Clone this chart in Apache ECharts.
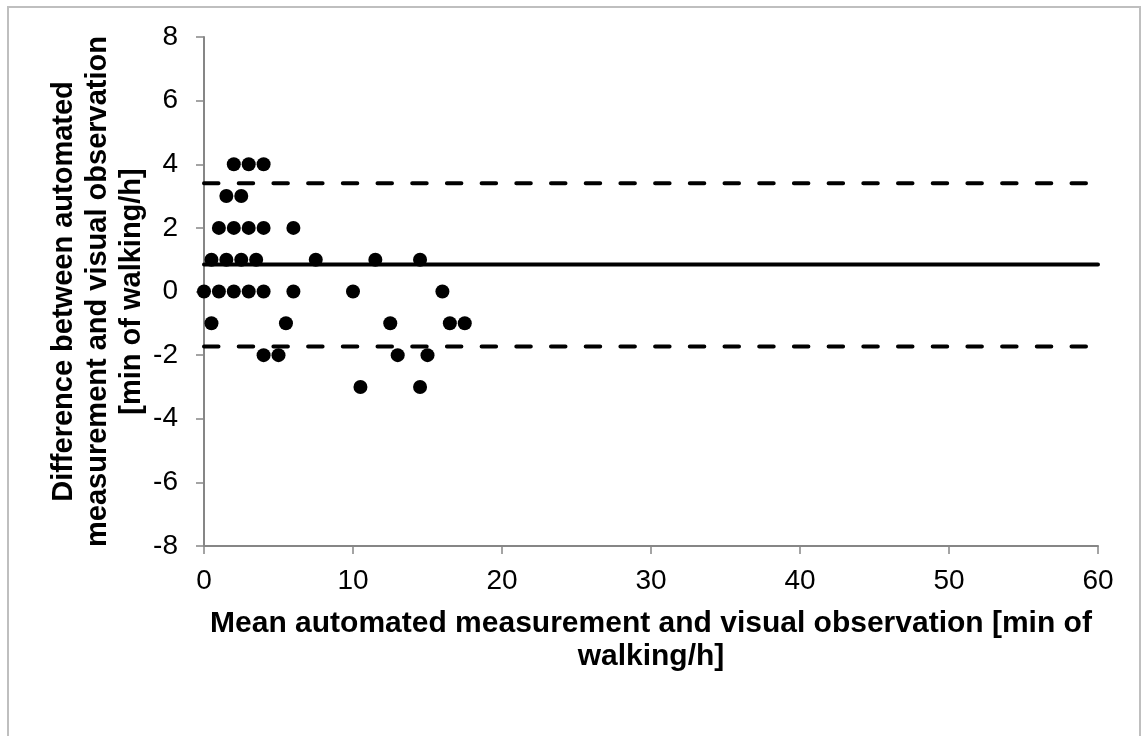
<!DOCTYPE html>
<html>
<head>
<meta charset="utf-8">
<script src="https://cdn.jsdelivr.net/npm/echarts@6/dist/echarts.min.js"></script>
<style>
html,body{margin:0;padding:0;background:#fff;}
#chart{width:1141px;height:736px;}
</style>
</head>
<body>
<div id="chart"></div>
<script>
// Bland-Altman data: [mean, difference]
const meanValues = [0, 0.5, 0.5, 1, 1, 1.5, 1.5, 2, 2, 2, 2.5, 2.5, 3, 3, 3, 3.5, 4, 4, 4, 4, 5, 5.5, 6, 6, 7.5, 10, 10.5, 11.5, 12.5, 13, 14.5, 14.5, 15, 16, 16.5, 17.5];
const diffValues = [0, 1, -1, 2, 0, 3, 1, 4, 2, 0, 3, 1, 4, 2, 0, 1, 4, 2, 0, -2, -2, -1, 2, 0, 1, 0, -3, 1, -1, -2, 1, -3, -2, 0, -1, -1];
const meanDifference = 0.85;
const upperLimit = 3.4;
const lowerLimit = -1.73;
const xRange = [0, 60];
const yRange = [-8, 8];
const xTitle = 'Mean automated measurement and visual observation [min of\nwalking/h]';
const yTitle = 'Difference between automated\nmeasurement and visual observation\n[min of walking/h]';

const points = meanValues.map((m, i) => [m, diffValues[i]]);
const font = 'Liberation Sans, Arial, sans-serif';
const axisGray = '#868686';

const chart = echarts.init(document.getElementById('chart'));
chart.setOption({
  backgroundColor: '#fff',
  animation: false,
  graphic: [{
    type: 'rect',
    shape: { x: 8, y: 7, width: 1132, height: 760 },
    style: { fill: 'none', stroke: '#bfbfbf', lineWidth: 2 },
    silent: true, z: -1
  }],
  grid: { left: 204, right: 43, top: 37, bottom: 190 },
  xAxis: {
    type: 'value', min: xRange[0], max: xRange[1], interval: 10,
    splitLine: { show: false },
    axisLine: { onZero: false, lineStyle: { color: axisGray, width: 2 } },
    axisTick: { length: 8, lineStyle: { color: axisGray, width: 1.5 } },
    axisLabel: { color: '#000', fontSize: 28, fontFamily: font, margin: 21 },
    name: xTitle, nameLocation: 'middle', nameGap: 61, nameMoveOverlap: false,
    nameTextStyle: { color: '#000', fontSize: 30, fontWeight: 'bold', fontFamily: font, lineHeight: 33, verticalAlign: 'top' }
  },
  yAxis: {
    type: 'value', min: yRange[0], max: yRange[1], interval: 2,
    splitLine: { show: false },
    axisLine: { onZero: false, lineStyle: { color: axisGray, width: 2 } },
    axisTick: { length: 8, lineStyle: { color: axisGray, width: 1.5 } },
    axisLabel: { color: '#000', fontSize: 28, fontFamily: font, margin: 26 },
    name: yTitle, nameLocation: 'middle', nameGap: 55, nameRotate: 90, nameMoveOverlap: false,
    nameTextStyle: { color: '#000', fontSize: 29, fontWeight: 'bold', fontFamily: font, lineHeight: 34 }
  },
  series: [
    {
      type: 'line', data: [[xRange[0], meanDifference], [xRange[1], meanDifference]],
      symbol: 'none', lineStyle: { color: '#000', width: 4, cap: 'round' }, z: 1
    },
    {
      type: 'line', data: [[xRange[0], upperLimit], [xRange[1], upperLimit]],
      symbol: 'none', lineStyle: { color: '#000', width: 4, type: [14.5, 20.2], cap: 'round' }, z: 1
    },
    {
      type: 'line', data: [[xRange[0], lowerLimit], [xRange[1], lowerLimit]],
      symbol: 'none', lineStyle: { color: '#000', width: 4, type: [14.5, 20.2], cap: 'round' }, z: 1
    },
    {
      type: 'scatter', data: points, symbol: 'circle', symbolSize: 14,
      itemStyle: { color: '#000', opacity: 1 }, z: 3
    }
  ]
});
</script>
</body>
</html>
